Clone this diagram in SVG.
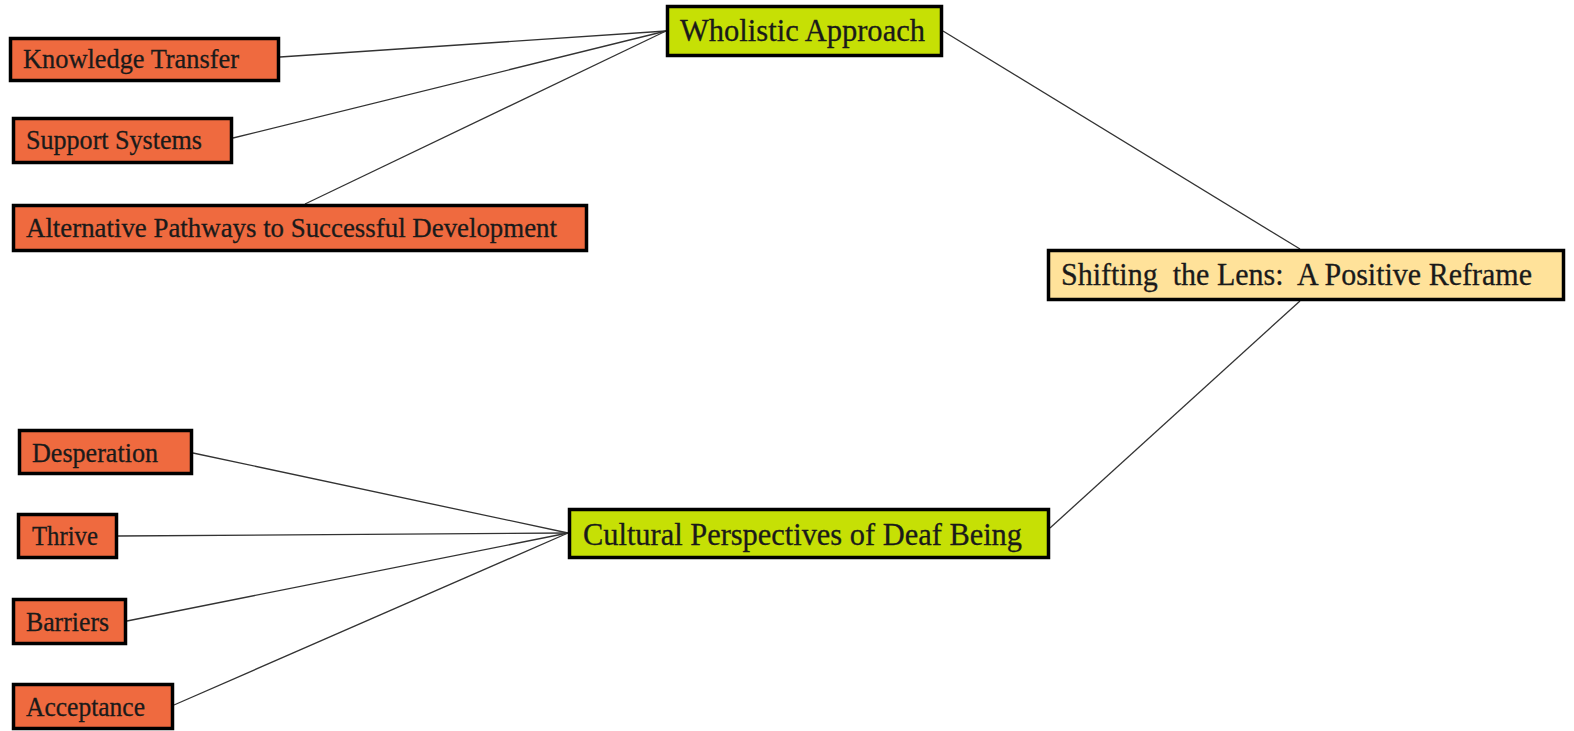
<svg xmlns="http://www.w3.org/2000/svg" width="1574" height="731" viewBox="0 0 1574 731">
<style>
.box{stroke:#000;stroke-width:3.5}
.or{fill:#EF6A3F}
.gr{fill:#C6E005}
.ye{fill:#FFE29A}
text{font-family:"Liberation Serif","Times New Roman",serif;fill:#1a1a1a;stroke:#1a1a1a;stroke-width:0.3}
.s{font-size:27.5px}
.l{font-size:31px}
.c line{stroke:#333;stroke-width:1.3}
</style>
<rect width="1574" height="731" fill="#fff"/>
<g class="c" id="connectors">
<line x1="280" y1="57" x2="666" y2="31"/>
<line x1="233" y1="138" x2="666" y2="31"/>
<line x1="305" y1="204" x2="666" y2="31"/>
<line x1="943" y1="31" x2="1300" y2="249"/>
<line x1="1050" y1="528" x2="1300" y2="301"/>
<line x1="193" y1="453" x2="568" y2="533"/>
<line x1="118" y1="536" x2="568" y2="533"/>
<line x1="127" y1="621" x2="568" y2="533"/>
<line x1="174" y1="705" x2="568" y2="533"/>
</g>
<g id="knowledge-transfer"><rect class="box or" x="10.5" y="38.5" width="268" height="42"/><text class="s" x="23" y="68" textLength="216" lengthAdjust="spacingAndGlyphs">Knowledge  Transfer</text></g>
<g id="support-systems"><rect class="box or" x="13.5" y="118.5" width="218" height="44"/><text class="s" x="26" y="149" textLength="176" lengthAdjust="spacingAndGlyphs">Support Systems</text></g>
<g id="alternative-pathways"><rect class="box or" x="13.5" y="205.5" width="573" height="45"/><text class="s" x="26" y="237" textLength="531" lengthAdjust="spacingAndGlyphs">Alternative  Pathways to Successful Development</text></g>
<g id="wholistic-approach"><rect class="box gr" x="667.5" y="6.5" width="274" height="49"/><text class="l" x="680" y="41" textLength="245" lengthAdjust="spacingAndGlyphs">Wholistic Approach</text></g>
<g id="shifting-the-lens"><rect class="box ye" x="1048.5" y="250.5" width="515" height="49"/><text class="l" x="1061" y="285" textLength="471" lengthAdjust="spacingAndGlyphs" xml:space="preserve">Shifting  the Lens:  A Positive Reframe</text></g>
<g id="cultural-perspectives"><rect class="box gr" x="569.5" y="509.5" width="479" height="48"/><text class="l" x="583" y="545" textLength="439" lengthAdjust="spacingAndGlyphs">Cultural Perspectives of Deaf Being</text></g>
<g id="desperation"><rect class="box or" x="19.5" y="430.5" width="172" height="43"/><text class="s" x="32" y="462" textLength="126" lengthAdjust="spacingAndGlyphs">Desperation</text></g>
<g id="thrive"><rect class="box or" x="18.5" y="514.5" width="98" height="43"/><text class="s" x="32" y="545" textLength="66" lengthAdjust="spacingAndGlyphs">Thrive</text></g>
<g id="barriers"><rect class="box or" x="13.5" y="599.5" width="112" height="44"/><text class="s" x="26" y="631" textLength="83" lengthAdjust="spacingAndGlyphs">Barriers</text></g>
<g id="acceptance"><rect class="box or" x="13.5" y="684.5" width="159" height="44"/><text class="s" x="26" y="716" textLength="119" lengthAdjust="spacingAndGlyphs">Acceptance</text></g>
</svg>
